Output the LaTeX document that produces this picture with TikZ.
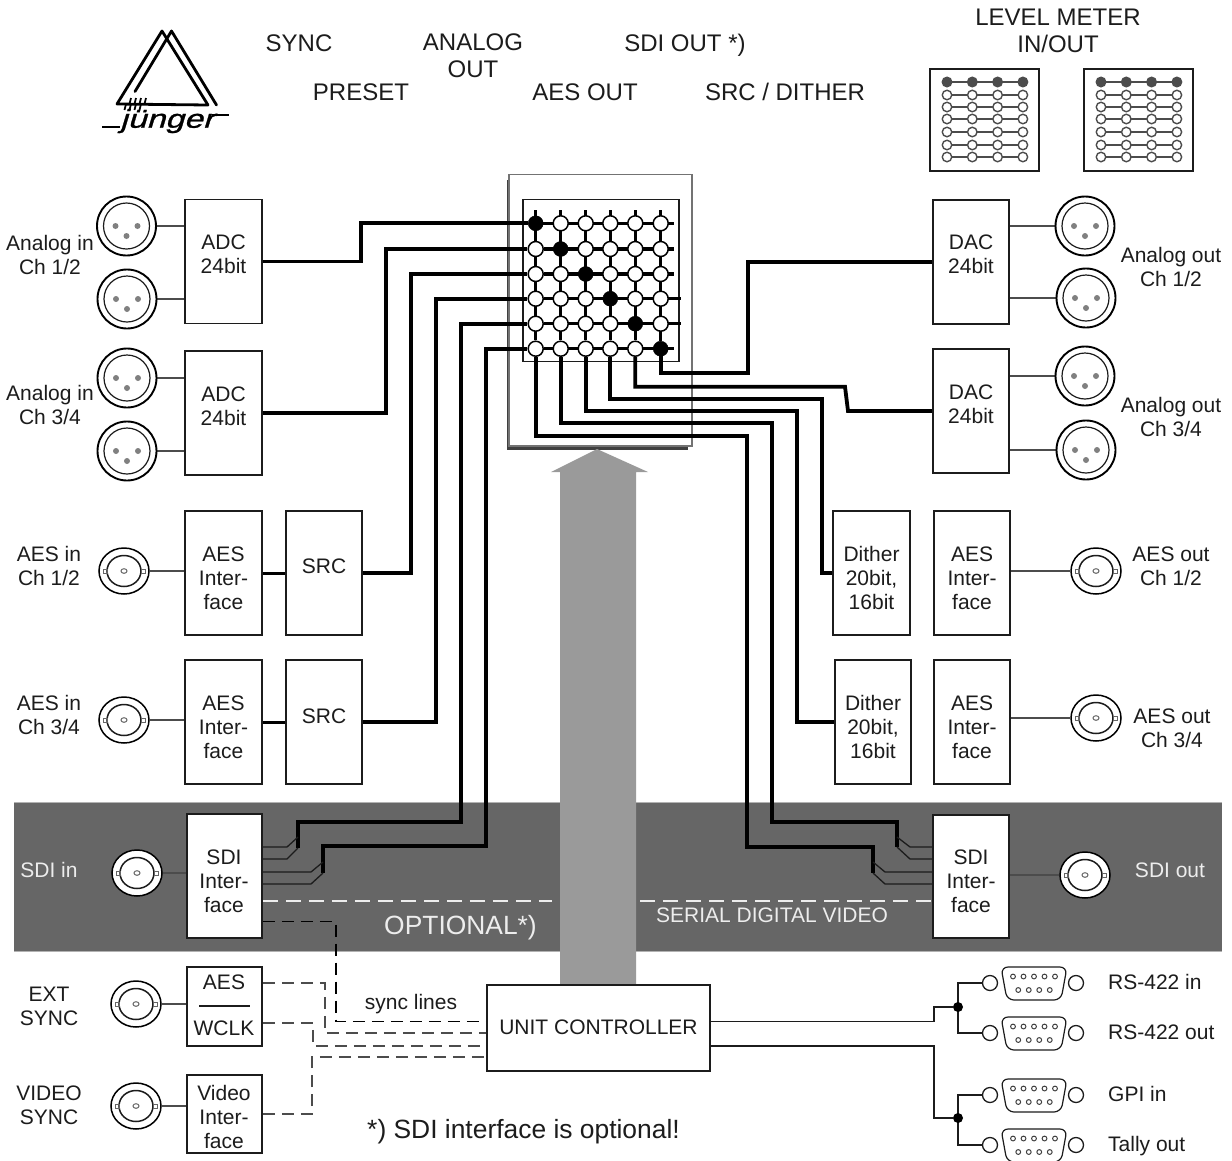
\documentclass[tikz,border=0pt]{standalone}
\usepackage{fontspec}
\setmainfont{Liberation Sans}
\newfontfamily\logofont[FakeSlant=0.3,FakeStretch=1.3,FakeBold=1]{Liberation Sans}
\usetikzlibrary{shapes.geometric,calc}
\pgfdeclarelayer{back}\pgfdeclarelayer{wires}
\pgfsetlayers{back,wires,main}
\definecolor{inkc}{HTML}{1C1C1C}
\definecolor{bandc}{HTML}{666666}
\definecolor{arrowc}{HTML}{9A9A9A}
\definecolor{wht}{HTML}{EDEDED}
\tikzset{
 txt/.style={inner sep=0pt,align=center,text=inkc,font=\fontsize{21}{24}\selectfont},
 bigtxt/.style={inner sep=0pt,align=center,text=inkc,font=\fontsize{24}{27}\selectfont},
 ltxt/.style={txt,anchor=west},
 wtxt/.style={inner sep=0pt,align=center,text=wht,font=\fontsize{21}{24}\selectfont},
 boxn/.style={draw=inkc,line width=1.7pt,fill=white,inner sep=0pt},
 bus/.style={line width=3.8pt,draw=black,line join=miter},
 thinw/.style={line width=1.3pt,draw=inkc},
 feed/.style={line width=1.3pt,draw=black!70},
 dashk/.style={line width=1.2pt,draw=black!70,dash pattern=on 12pt off 7pt},
 dashw/.style={line width=2.2pt,draw=wht,dash pattern=on 15pt off 8pt},
 xp/.style={circle,draw=black,fill=white,line width=1.5pt,inner sep=0pt,minimum size=15pt},
 xb/.style={circle,fill=black,draw=black,inner sep=0pt,minimum size=15pt},
 jd/.style={circle,fill=black,inner sep=0pt,minimum size=10pt},
 ring/.style={circle,draw=inkc,line width=1.3pt,fill=white,inner sep=0pt,minimum size=15pt},
 xlrn/.style={circle,draw=black,line width=1.9pt,fill=white,inner sep=0pt,minimum size=59pt},
 bncn/.style={ellipse,draw=black,line width=1.5pt,fill=white,inner sep=0pt,minimum width=50pt,minimum height=46pt},
 dot/.style={circle,fill=#1,draw=black!70,line width=1.4pt,inner sep=0pt,minimum size=9.5pt},
}
\newcommand{\xlrc}[3]{\node[xlrn] (#1) at (#2,#3) {};
 \draw[inkc,line width=1.2pt] (#1.center) circle[radius=23];
 \fill[black!50] ($(#1.center)+(-11,0)$) circle[radius=3] ($(#1.center)+(11,0)$) circle[radius=3] ($(#1.center)+(0,10)$) circle[radius=3];}
\newcommand{\bncc}[3]{\node[bncn] (#1) at (#2,#3) {};
 \draw[inkc,line width=1.5pt] (#1.center) ellipse[x radius=17,y radius=15.5];
 \draw[black!60,line width=1pt] (#1.center) ellipse[x radius=3,y radius=2.3];
 \draw[black!60,line width=.9pt] ($(#1.center)+(-21,-2)$) rectangle +(4,4) ($(#1.center)+(17,-2)$) rectangle +(4,4);}
\newcommand{\dsubc}[3]{\node[ring] (#1) at (#2,#3) {};
 \node[ring] (#1r) at ($(#1)+(86,0)$) {};
 \coordinate (#1c) at ($(#1)+(44,0)$);
 \draw[inkc,line width=1.2pt,rounded corners=7pt,fill=white] ($(#1c)+(-33,-16)$) -- ($(#1c)+(33,-16)$) -- ($(#1c)+(27,17)$) -- ($(#1c)+(-27,17)$) -- cycle;
 \foreach \k in {-2,...,2}{\draw[black!75,line width=1pt] ($(#1c)+(\k*10.5,-6.5)$) circle[radius=2.4];}
 \foreach \k in {-1.5,-.5,.5,1.5}{\draw[black!75,line width=1pt] ($(#1c)+(\k*10.5,7)$) circle[radius=2.4];}}
\begin{document}
\begin{tikzpicture}[x=1pt,y=-1pt]
\useasboundingbox (0,0) rectangle (1232,1160);
% ---------- backgrounds
\begin{pgfonlayer}{back}
\fill[white] (0,0) rectangle (1232,1160);
\fill[bandc] (14,802) rectangle (1222,951);
\draw[black!30,line width=1pt] (14,802) -- (1222,802);
\draw[black!30,line width=1pt] (14,951) -- (1222,951);
\fill[black!75] (507,180) rectangle (688,449.5);
\draw[black!55,line width=1.2pt,fill=white] (509,174.5) rectangle (692,446);
\draw[inkc,line width=1.8pt] (522.7,199.5) rectangle (678.7,361.5);
\end{pgfonlayer}
% ---------- logo
\draw[black,line width=2.8pt,line cap=round,line join=round] (117,104) -- (162,31) -- (208,105) -- cycle;
\draw[black,line width=2.8pt,line cap=round,line join=round] (135,91.5) -- (171.5,31) -- (216.5,105);
\draw[black,line width=1.8pt] \foreach \q in {131,136,141,146}{(\q,98) -- (\q-1.5,104)};
\draw[black,line width=1.8pt] \foreach \q in {126,131,136,141}{(\q,104) -- (\q-1.5,110)};
\node[inner sep=0pt,text=black,font=\logofont\fontsize{26}{26}\selectfont] (logotxt) at (167,121) {jünger};
\draw[black,line width=1.8pt] (102,127) -- (120,127);
\draw[black,line width=1.8pt] (212,115) -- (229,115);
% ---------- top labels
\node[bigtxt] (t1) at (299,43) {SYNC};
\node[bigtxt] (t2) at (361,92) {PRESET};
\node[bigtxt] (t3) at (473,56) {ANALOG\\OUT};
\node[bigtxt] (t4) at (585,92) {AES OUT};
\node[bigtxt] (t5) at (685,45.5) {SDI OUT *)};
\node[bigtxt] (t6) at (785,92) {SRC / DITHER};
\node[bigtxt] (t7) at (1058,31) {LEVEL METER\\IN/OUT};
% ---------- level meters
\node[draw=inkc,line width=2pt,fill=white,minimum width=109pt,minimum height=102pt,inner sep=0pt] (lm1) at (984.5,120) {};
\node[draw=inkc,line width=2pt,fill=white,minimum width=109pt,minimum height=102pt,inner sep=0pt] (lm2) at (1138.5,120) {};
\foreach \xo in {947,1101}{
 \foreach \yy/\cc in {82/black!70,95/white,107/white,119/white,132/white,145/white,157/white}{
  \draw[line width=1.3pt,draw=black!70] (\xo,\yy) -- (\xo+76,\yy);
  \foreach \u in {0,1,2,3}{\node[dot=\cc] at (\xo+\u*25.3,\yy) {};}
 }}
% ---------- matrix nodes
\foreach \c/\xx in {1/535.7,2/560.7,3/585.7,4/610.3,5/635.3,6/660.7}{
 \foreach \r/\yy in {1/223.3,2/249,3/274,4/298.7,5/323.7,6/348.7}{
  \ifnum\c=\r \node[xb] (m\r\c) at (\xx,\yy) {}; \else \node[xp] (m\r\c) at (\xx,\yy) {}; \fi
 }}
% ---------- boxes
\newcommand{\bx}[5]{\node[boxn,minimum width=#4pt,minimum height=#5pt] (#1) at (#2,#3) {};}
\bx{adca}{223.5}{261.5}{77}{124}
\bx{adcb}{223.5}{413}{77}{124}
\bx{aesia}{223.5}{573}{77}{124}
\bx{aesib}{223.5}{722}{77}{124}
\bx{srca}{324}{573}{76}{124}
\bx{srcb}{324}{722}{76}{124}
\bx{sdii}{224.5}{876}{75}{124}
\bx{sync}{224.5}{1006.5}{75}{79}
\bx{vidi}{224.5}{1114}{75}{78}
\bx{daca}{971}{262}{76}{124}
\bx{dacb}{971}{411}{76}{124}
\bx{dita}{871.5}{573}{77}{124}
\bx{ditb}{873}{722}{76}{124}
\bx{aesoa}{972}{573}{76}{124}
\bx{aesob}{972}{722}{76}{124}
\bx{sdio}{971}{876.5}{76}{123}
\bx{unit}{598.5}{1028}{223}{86}
\draw[inkc,line width=1.2pt] (199,1006) -- (250,1006);
% ---------- connectors from matrix and blocks
\coordinate (sa) at (298,822); \coordinate (sb) at (323,846);
\coordinate (sc) at (897,822); \coordinate (sd) at (873,847);
\begin{pgfonlayer}{wires}
 \foreach \c in {1,...,6}{\draw[line width=3.2pt] (m1\c |- 0,210) -- (m6\c);}
 \foreach \r/\e in {1/674,2/674,3/674,4/681,5/681,6/674}{\draw[line width=3.2pt] (m\r1) -- (\e,0 |- m\r1);}
 \draw[bus] (adca.east) -- (361,261.5) -- (361,223.3) -- (m11);
 \draw[bus] (adcb.east) -- (386,413) -- (386,249) -- (m21);
 \draw[bus] (srca.east) -- (411,573) -- (411,274) -- (m31);
 \draw[bus] (srcb.east) -- (436,722) -- (436,298.7) -- (m41);
 \draw[bus] (298,848) -- (sa) -- (461,822) -- (461,323.7) -- (m51);
 \draw[bus] (323,873) -- (sb) -- (486,846) -- (486,348.7) -- (m61);
 \draw[bus] (m66) -- (660.7,373.3) -- (748,373.3) -- (748,262) -- (daca.west);
 \draw[bus] (m65) -- (635.3,386.7) -- (845,386.7) -- (848,411) -- (dacb.west);
 \draw[bus] (m64) -- (610.3,399) -- (822,399) -- (822,573) -- (dita.west);
 \draw[bus] (m63) -- (585.7,411) -- (797,411) -- (797,722) -- (ditb.west);
 \draw[bus] (m62) -- (560.7,423) -- (772,423) -- (772,822) -- (sc) -- (897,847);
 \draw[bus] (m61) -- (535.7,436) -- (747,436) -- (747,847) -- (sd) -- (873,873);
 \draw[bus,line width=3pt] (aesia.east) -- (srca.west);
 \draw[bus,line width=3pt] (aesib.east) -- (srcb.west);
 % fan-out to SDI
 \draw[thinw] (sdii.east |- 0,847) -- (287,847) -- (298,837);
 \draw[thinw] (sdii.east |- 0,859) -- (287,859) -- (298,848);
 \draw[thinw] (sdii.east |- 0,872) -- (311,872) -- (323,862);
 \draw[thinw] (sdii.east |- 0,884) -- (311,884) -- (323,873);
 \draw[thinw] (sdio.west |- 0,847) -- (910,847) -- (897,837);
 \draw[thinw] (sdio.west |- 0,859) -- (910,859) -- (897,847);
 \draw[thinw] (sdio.west |- 0,872) -- (885,872) -- (873,862);
 \draw[thinw] (sdio.west |- 0,884) -- (885,884) -- (873,873);
 \draw[dashw] (sdii.east |- 0,901) -- (552,901);
 \draw[dashw] (640,901) -- (sdio.west |- 0,901);
 % sync lines
 \draw[dashk,draw=black] (sdii.east |- 0,921.7) -- (336,921.7) -- (336,1021.7) -- (unit.west |- 0,1021.7);
 \draw[dashk] (sync.east |- 0,983) -- (325,983) -- (325,1033) -- (unit.west |- 0,1033);
 \draw[dashk] (sync.east |- 0,1023) -- (313,1023) -- (313,1046) -- (unit.west |- 0,1046);
 \draw[dashk] (vidi.east) -- (312,1114) -- (312,1057) -- (unit.west |- 0,1057);
 % controller arrow
 \fill[arrowc] (551,472) -- (597,449) -- (648,472) -- (636,472) -- (636,985) -- (560,985) -- (560,472) -- cycle;
\end{pgfonlayer}
% ---------- connectors: analog and digital jacks
\xlrc{xa}{126.5}{226}\xlrc{xb}{127}{299}\xlrc{xc}{127}{378}\xlrc{xd}{127}{451}
\xlrc{xe}{1085}{226}\xlrc{xf}{1086}{298}\xlrc{xg}{1085}{376}\xlrc{xh}{1086}{450}
\bncc{ba}{124}{571}\bncc{bb}{124}{720}\bncc{bc}{137}{873}\bncc{bd}{136}{1004}\bncc{be}{136}{1106}
\bncc{bf}{1096}{571}\bncc{bg}{1096}{718}\bncc{bh}{1085}{875}
\begin{pgfonlayer}{wires}
 \foreach \a/\b in {xa/adca,xb/adca,xc/adcb,xd/adcb,ba/aesia,bb/aesib,bc/sdii,bd/sync,be/vidi}{\draw[feed] (\a.east) -- (\a.east -| \b.west);}
 \foreach \a/\b in {xe/daca,xf/daca,xg/dacb,xh/dacb,bf/aesoa,bg/aesob,bh/sdio}{\draw[feed] (\a.west) -- (\a.west -| \b.east);}
\end{pgfonlayer}
% ---------- D-sub connectors
\dsubc{da}{990}{983}\dsubc{db}{990}{1033}\dsubc{dc}{990}{1095}\dsubc{dd}{990}{1145}
\node[jd] (ja) at (958,1007) {};
\node[jd] (jb) at (958,1118) {};
\begin{pgfonlayer}{wires}
 \draw[thinw] (unit.east |- 0,1021.5) -- (934,1021.5) -- (934,1007) -- (ja);
 \draw[thinw] (unit.east |- 0,1046) -- (934,1046) -- (934,1118) -- (jb);
 \draw[thinw] (da.west) -- (958,983) -- (958,1033) -- (db.west);
 \draw[thinw] (dc.west) -- (958,1095) -- (958,1145) -- (dd.west);
\end{pgfonlayer}
% ---------- texts
\node[txt] (la) at (223.5,254) {ADC\\24bit};
\node[txt] (lb) at (223.5,406) {ADC\\24bit};
\node[txt] (lc) at (223.5,578) {AES\\Inter-\\face};
\node[txt] (ld) at (223.5,727) {AES\\Inter-\\face};
\node[txt] (le) at (324,566) {SRC};
\node[txt] (lf) at (324,716) {SRC};
\node[txt] (lg) at (224,881) {SDI\\Inter-\\face};
\node[txt] (lh) at (224,982) {AES};
\node[txt] (li) at (224,1028) {WCLK};
\node[txt] (lj) at (224,1117) {Video\\Inter-\\face};
\node[txt] (lk) at (971,254) {DAC\\24bit};
\node[txt] (ll) at (971,404) {DAC\\24bit};
\node[txt] (lm) at (871.5,578) {Dither\\20bit,\\16bit};
\node[txt] (ln) at (873,727) {Dither\\20bit,\\16bit};
\node[txt] (lo) at (972,578) {AES\\Inter-\\face};
\node[txt] (lp) at (972,727) {AES\\Inter-\\face};
\node[txt] (lq) at (971,881) {SDI\\Inter-\\face};
\node[txt] (lr) at (598.5,1027) {UNIT CONTROLLER};
\node[txt] (ls) at (411,1004) {sync lines};
\node[txt,font=\fontsize{26.4}{28}\selectfont] (lt) at (523.5,1132) {*) SDI interface is optional!};
\node[wtxt,font=\fontsize{26.4}{28}\selectfont] (lu) at (460.5,927.5) {OPTIONAL*)};
\node[wtxt] (lv) at (772,915) {SERIAL DIGITAL VIDEO};
\node[wtxt] (lw) at (49,870) {SDI in};
\node[wtxt] (lx) at (1170,870) {SDI out};
\node[txt] (n1) at (50,255) {Analog in\\Ch 1/2};
\node[txt] (n2) at (50,405) {Analog in\\Ch 3/4};
\node[txt] (n3) at (49,566) {AES in\\Ch 1/2};
\node[txt] (n4) at (49,715) {AES in\\Ch 3/4};
\node[txt] (n5) at (49,1006) {EXT\\SYNC};
\node[txt] (n6) at (49,1105) {VIDEO\\SYNC};
\node[txt] (n7) at (1171,267) {Analog out\\Ch 1/2};
\node[txt] (n8) at (1171,417) {Analog out\\Ch 3/4};
\node[txt] (n9) at (1171,566) {AES out\\Ch 1/2};
\node[txt] (n10) at (1172,728) {AES out\\Ch 3/4};
\node[ltxt] (r1) at (1108,982) {RS-422 in};
\node[ltxt] (r2) at (1108,1032) {RS-422 out};
\node[ltxt] (r3) at (1108,1094) {GPI in};
\node[ltxt] (r4) at (1108,1146) {Tally out};
\end{tikzpicture}
\end{document}
